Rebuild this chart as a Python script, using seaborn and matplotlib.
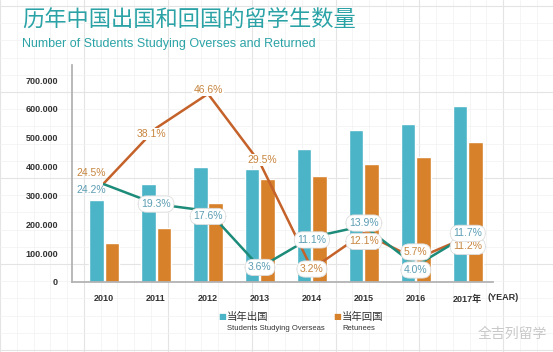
import numpy as np
import pandas as pd
import matplotlib
matplotlib.use("Agg")
import matplotlib.pyplot as plt
import seaborn as sns

# data
years = ["2010", "2011", "2012", "2013", "2014", "2015", "2016", "2017年"]
overseas = [284700, 339700, 399600, 390000, 462000, 526000, 548000, 610000]
returned = [134800, 186200, 272900, 356000, 366000, 410000, 434000, 484000]
overseas_rate = [24.2, 19.3, 17.6, 3.6, 11.1, 13.9, 4.0, 11.7]
returned_rate = [24.5, 38.1, 46.6, 29.5, 3.2, 12.1, 5.7, 11.2]
series_names = ["当年出国", "当年回国"]
series_en = ["Students Studying Overseas", "Retunees"]

blue = "#4BB4C6"
orange = "#D7812B"
teal_line = "#1C8B79"
orange_line = "#C4622A"
teal_text = "#5C9DB3"
orange_text = "#C7853F"
title_col = "#2BA3A6"

sns.set_theme(style="white")
narrow = ["Liberation Sans", "DejaVu Sans"]
cjk = ["Noto Sans CJK SC", "DejaVu Sans"]
plt.rcParams["font.family"] = ["Liberation Sans", "Noto Sans CJK SC", "DejaVu Sans"]

df = pd.DataFrame({
    "year": years * 2,
    "count": overseas + returned,
    "series": [series_names[0]] * len(years) + [series_names[1]] * len(years),
})

fig = plt.figure(figsize=(5.53, 3.52), dpi=100)

# graph-paper background
bg = fig.add_axes([0, 0, 1, 1], zorder=-5)
bg.set_xlim(0, 553)
bg.set_ylim(352, 0)
bg.set_xticks(np.arange(-14, 553, 86))
bg.set_yticks(np.arange(6, 352, 86))
bg.set_xticks(np.arange(-14, 553, 17.2), minor=True)
bg.set_yticks(np.arange(6, 352, 17.2), minor=True)
bg.grid(True, which="major", color="#E4E4E4", lw=0.8)
bg.grid(True, which="minor", color="#F2F2F2", lw=0.5)
bg.tick_params(which="both", length=0, labelbottom=False, labelleft=False)
for s in bg.spines.values():
    s.set_visible(False)

ax = fig.add_axes([0.130, 0.199, 0.761, 0.616])
ax.patch.set_alpha(0)
sns.barplot(data=df, x="year", y="count", hue="series",
            palette=[blue, orange], saturation=1, width=0.6, gap=0.06,
            legend=False, ax=ax, zorder=2)
ax.set_xlim(-0.62, 7.48)
ax.set_ylim(0, 752000)
ax.set_yticks(np.arange(0, 700001, 100000))
ax.set_yticklabels(["0" if v == 0 else f"{v // 1000}.000" for v in range(0, 700001, 100000)],
                   fontsize=6.5, color="#333333", fontweight="bold", family=narrow)
ax.set_xticks(range(len(years)))
ax.set_xticklabels(years, fontsize=6.5, color="#333333", fontweight="bold",
                   family=["Liberation Sans", "Noto Sans CJK SC"])
ax.tick_params(axis="y", length=0, pad=10)
ax.tick_params(axis="x", length=0, pad=9)
ax.set_xlabel("")
ax.set_ylabel("")
for k in ["top", "right"]:
    ax.spines[k].set_visible(False)
ax.spines["left"].set_color("#B0B0B0")
ax.spines["bottom"].set_color("#B0B0B0")
ax.text(7.68, -0.072, "(YEAR)", transform=ax.get_xaxis_transform(), ha="center", va="center",
        fontsize=6.5, color="#333333", fontweight="bold", family=narrow)

# growth rate lines on twin axis
ax2 = ax.twinx()
ax2.set_ylim(0, 50 * 752 / 700)
sns.lineplot(x=range(len(years)), y=returned_rate, color=orange_line, lw=1.8, ax=ax2, zorder=3)
sns.lineplot(x=range(len(years)), y=overseas_rate, color=teal_line, lw=1.8, ax=ax2, zorder=3)
ax2.set_xlim(-0.62, 7.48)
ax2.set_yticks([])
ax2.set_ylabel("")
for s in ax2.spines.values():
    s.set_visible(False)

box = dict(boxstyle="round,pad=0.3,rounding_size=0.8", fc="white", ec="#DDDDDD", lw=0.6)
plain = dict(boxstyle="square,pad=0.1", fc="white", ec="none")
ret_off = [(-9, 7), (-3, -4), (0, 3), (2, 2), (0, 0), (0, -6), (0, 5), (0, -7)]
ovs_off = [(-9, -4), (0, 0), (0, -4), (0, 0), (0, -2), (0, 2), (0, -3), (0, 1)]
for i, v in enumerate(returned_rate):
    ax2.annotate(f"{v}%", (i, v), xytext=ret_off[i], textcoords="offset points",
                 ha="center", va="center", fontsize=7.5, color=orange_text,
                 bbox=(None if i == 0 else plain) if i < 4 else box, zorder=5, family=narrow)
for i, v in enumerate(overseas_rate):
    ax2.annotate(f"{v}%", (i, v), xytext=ovs_off[i], textcoords="offset points",
                 ha="center", va="center", fontsize=7.5, color=teal_text,
                 bbox=None if i == 0 else box, zorder=5, family=narrow)

# titles
fig.text(22 / 553, 1 - 20 / 352, "历年中国出国和回国的留学生数量", fontsize=16, color=title_col,
         ha="left", va="center", family=cjk, fontweight="light")
fig.text(22 / 553, 1 - 44 / 352, "Number of Students Studying Overses and Returned", fontsize=9,
         color=title_col, ha="left", va="center", family=narrow)

# legend
for x0, col, zh, en in [(222, blue, series_names[0], series_en[0]),
                        (337, orange, series_names[1], series_en[1])]:
    fig.text(x0 / 553, 1 - 317 / 352, "■", color=col, fontsize=6, ha="center", va="center",
             family=["DejaVu Sans"])
    fig.text((x0 + 5) / 553, 1 - 317 / 352, zh, color="#333333", fontsize=7.5, ha="left",
             va="center", family=cjk)
    fig.text((x0 + 5) / 553, 1 - 329 / 352, en, color="#333333", fontsize=5.5, ha="left",
             va="center", family=narrow)

# watermark
fig.text(478 / 553, 1 - 334 / 352, "全吉列留学", color="#C8C8C8", fontsize=10, ha="left",
         va="center", family=cjk)

fig.savefig("out.png", dpi=100)
